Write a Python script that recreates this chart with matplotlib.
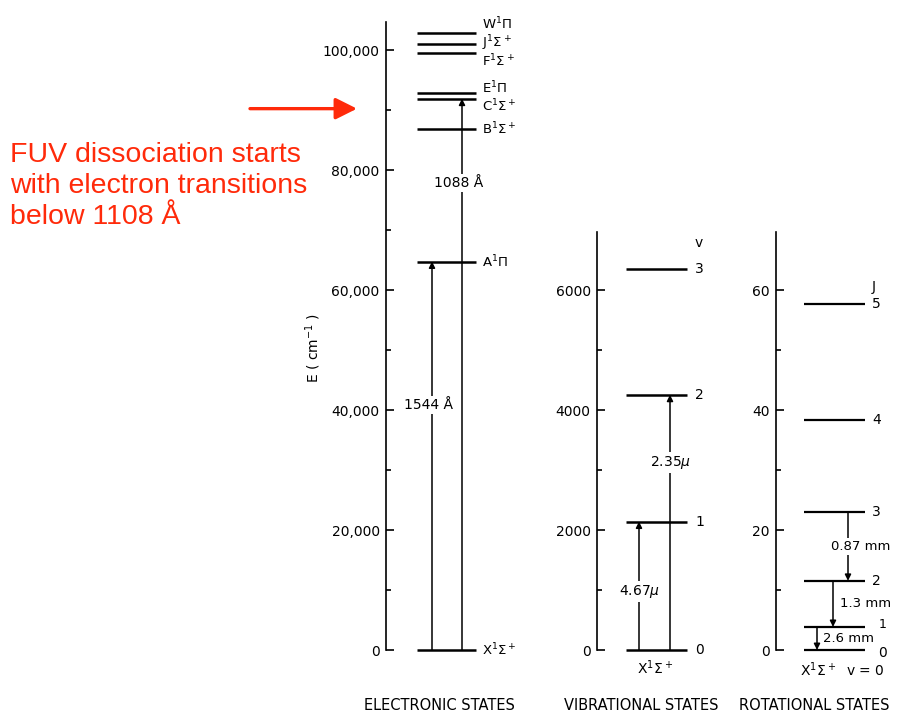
import matplotlib
matplotlib.use("Agg")
import matplotlib.pyplot as plt
from matplotlib.patches import ConnectionPatch
from matplotlib.ticker import FuncFormatter, MultipleLocator

# CO energy levels, all in cm^-1
elec_labels = [r"X$^1\Sigma^+$", r"A$^1\Pi$", r"B$^1\Sigma^+$", r"C$^1\Sigma^+$",
               r"E$^1\Pi$", r"F$^1\Sigma^+$", r"J$^1\Sigma^+$", r"W$^1\Pi$"]
elec_energy = [0, 64767, 86900, 91912, 92930, 99550, 101100, 102800]
elec_trans_wl = [1544, 1088]          # Angstrom, absorption from X
elec_trans_text = [u"1544 \u00c5", u"1088 \u00c5"]

vib_v = [0, 1, 2, 3]
vib_energy = [0, 2141, 4255, 6350]
vib_trans_um = [4.67, 2.35]           # micron, absorption from v=0
vib_trans_text = [r"4.67$\mu$", r"2.35$\mu$"]

rot_J = [0, 1, 2, 3, 4, 5]
rot_energy = [0, 3.85, 11.54, 23.03, 38.4, 57.7]
rot_trans_mm = [2.6, 1.3, 0.87]       # mm, emission J -> J-1
rot_trans_upper = [1, 2, 3]
rot_trans_text = ["2.6 mm", "1.3 mm", "0.87 mm"]

fuv_limit_wl = 1108                   # Angstrom

RED = "#ff2a0a"
W, H = 903, 714

fig = plt.figure(figsize=(W / 100, H / 100), dpi=100)
plt.rcParams["font.family"] = "DejaVu Sans"


def make_axes(left, top, width, ymax, major, minor, fmt):
    ax = fig.add_axes([left / W, (H - 650) / H, width / W, (650 - top) / H])
    ax.patch.set_visible(False)
    ax.set_xlim(0, width)
    ax.set_ylim(0, ymax)
    for s in ["top", "right", "bottom"]:
        ax.spines[s].set_visible(False)
    ax.spines["left"].set_linewidth(1.2)
    ax.set_xticks([])
    ax.yaxis.set_major_locator(MultipleLocator(major))
    ax.yaxis.set_minor_locator(MultipleLocator(minor))
    ax.yaxis.set_major_formatter(FuncFormatter(fmt))
    ax.tick_params(axis="y", which="major", direction="in", length=6,
                   width=1.2, pad=4.5, labelsize=10)
    ax.tick_params(axis="y", which="minor", direction="in", length=3.5,
                   width=1.2)
    return ax


def level(ax, y, x0, x1, lw=1.8):
    ax.plot([x0, x1], [y, y], color="k", lw=lw, solid_capstyle="butt",
            clip_on=False)


def arrow(ax, x, y_from, y_to):
    ax.annotate("", xy=(x, y_to), xytext=(x, y_from), annotation_clip=False,
                arrowprops=dict(arrowstyle="-|>,head_length=0.4,head_width=0.2",
                                color="k", lw=1.1, mutation_scale=9,
                                shrinkA=0, shrinkB=0))


label_box = dict(facecolor="white", edgecolor="none", pad=1.5)

# electronic states
ax_e = make_axes(386, 22, 194, 104700, 20000, 10000,
                 lambda v, p: "{:,.0f}".format(v))
label_dy = [0, 0, 0, -5.5, 3, -6, 0, 7]
for lab, e, dy in zip(elec_labels, elec_energy, label_dy):
    level(ax_e, e, 31, 90)
    ax_e.annotate(lab, xy=(96, e), xytext=(0, dy), textcoords="offset points",
                  ha="left", va="center", fontsize=9.5)
for wl, txt, x, ylab in zip(elec_trans_wl, elec_trans_text, [46, 76],
                            [40800, 77800]):
    arrow(ax_e, x, 0, 1e8 / wl)
    ax_e.text(x - 3, ylab, txt, ha="center", va="center", fontsize=10,
              bbox=label_box)

# vibrational states
ax_v = make_axes(597, 232, 163, 6970, 2000, 1000,
                 lambda v, p: "{:.0f}".format(v))
for v, e in zip(vib_v, vib_energy):
    level(ax_v, e, 29, 90)
    ax_v.text(98, e, str(v), ha="left", va="center", fontsize=10)
ax_v.annotate("v", xy=(98, vib_energy[-1]), xytext=(0, 19),
              textcoords="offset points", ha="left", va="center", fontsize=10)
ax_v.annotate(r"X$^1\Sigma^+$", xy=(58, 0), xytext=(0, -13),
              textcoords="offset points", ha="center", va="center", fontsize=10)
for lam, txt, x, ylab in zip(vib_trans_um, vib_trans_text, [42, 73],
                             [980, 3120]):
    arrow(ax_v, x, 0, 1e4 / lam)
    ax_v.text(x + 1, ylab, txt, ha="center", va="center", fontsize=10,
              bbox=label_box)

# rotational states
ax_r = make_axes(776, 232, 124, 69.7, 20, 10,
                 lambda v, p: "{:.0f}".format(v))
for j, e in zip(rot_J, rot_energy):
    level(ax_r, e, 28, 89, lw=1.6)
    if j >= 2:
        ax_r.text(96, e, str(j), ha="left", va="center", fontsize=10)
ax_r.annotate("1", xy=(103, rot_energy[1]), xytext=(0, 2),
              textcoords="offset points", ha="left", va="center", fontsize=9)
ax_r.annotate("0", xy=(102, 0), xytext=(0, -2),
              textcoords="offset points", ha="left", va="center", fontsize=10)
ax_r.annotate("J", xy=(96, rot_energy[-1]), xytext=(0, 12),
              textcoords="offset points", ha="left", va="center", fontsize=10)
ax_r.annotate(r"X$^1\Sigma^+$  v = 0", xy=(66, 0), xytext=(0, -14),
              textcoords="offset points", ha="center", va="center", fontsize=10)
rot_x = [41, 57, 72]
rot_lab_x = [47, 64, 85]
for lam, ju, txt, x, xl in zip(rot_trans_mm, rot_trans_upper, rot_trans_text,
                               rot_x, rot_lab_x):
    top = rot_energy[ju]
    bottom = top - 10.0 / lam
    arrow(ax_r, x, top, bottom)
    ax_r.text(xl, (top + bottom) / 2, txt, ha="left" if xl - x < 10 else "center",
              va="center", fontsize=9.5, bbox=label_box)

# axis title and panel captions
fig.text(313 / W, 1 - 348 / H, r"E ( cm$^{-1}$ )", rotation=90,
         ha="center", va="center", fontsize=10)
for txt, xc in zip(["ELECTRONIC STATES", "VIBRATIONAL STATES", "ROTATIONAL STATES"],
                   [439, 641, 814]):
    fig.text(xc / W, 1 - 705 / H, txt, ha="center", va="center", fontsize=10.5)

# red zoom connectors between the panels
for axa, pa, axb, pb in [(ax_e, (90, 7000), ax_v, (-56, 6000)),
                         (ax_v, (97, 380), ax_r, (-26, 58.5)),
                         (ax_e, (134, 0), ax_v, (-25, 0)),
                         (ax_v, (110, 0), ax_r, (-20, 0))]:
    con = ConnectionPatch(xyA=pa, coordsA="data", axesA=axa,
                          xyB=pb, coordsB="data", axesB=axb,
                          color=RED, lw=1.1)
    fig.add_artist(con)

# FUV dissociation threshold
ax_e.annotate("", xy=(-29, 1e8 / fuv_limit_wl), xytext=(-136, 1e8 / fuv_limit_wl),
              annotation_clip=False,
              arrowprops=dict(arrowstyle="-|>,head_length=0.5,head_width=0.25",
                              color=RED, lw=2.4, mutation_scale=26,
                              shrinkA=0, shrinkB=0))
fig.text(10 / W, 1 - 142 / H,
         u"FUV dissociation starts\nwith electron transitions\nbelow 1108 \u00c5",
         ha="left", va="top", fontsize=20.5, color=RED,
         family="Liberation Sans", linespacing=1.26)

fig.savefig("out.png", dpi=100)
